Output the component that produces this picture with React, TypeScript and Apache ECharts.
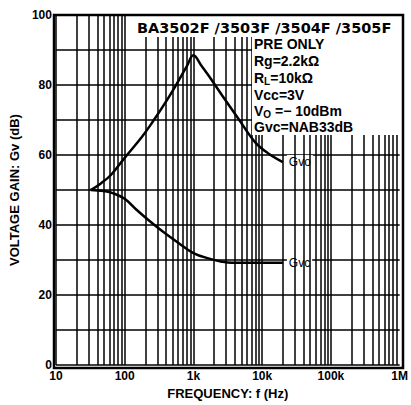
import React, { useEffect, useRef } from 'react';
import * as echarts from 'echarts';

// Gvo curve (frequency Hz, gain dB)
const gvoFreq = [32, 45, 63, 100, 180, 260, 380, 540, 800, 1000, 1300, 1690, 2620, 4540, 7870, 12000, 20000];
const gvoGain = [50, 51.9, 54.3, 59.2, 65.3, 69.7, 74.6, 79.5, 85.3, 88.5, 85.6, 82.5, 77, 70.3, 63.7, 60.6, 58];

// Gvc curve
const gvcFreq = [32, 50, 70, 100, 150, 235, 350, 566, 1000, 1700, 2500, 3600, 20000];
const gvcGain = [50, 49.7, 49, 47.5, 44.3, 41, 38.3, 35.3, 32, 30.4, 29.6, 29.2, 29.2];

const xTickLabels = ['10', '100', '1k', '10k', '100k', '1M'];
const decades = [10, 100, 1000, 10000, 100000];
const multipliers = [1, 2, 3, 4, 5, 6, 7, 8, 9];

const headerText = 'BA3502F /3503F /3504F /3505F';
const conditionLines = [
  '{n|PRE ONLY}',
  '{n|Rg=2.2kΩ}',
  '{n|R}{s|L}{n|=10kΩ}',
  '{n|Vcc=3V}',
  '{n|V}{s|O}{n| =− 10dBm}',
  '{n|Gvc=NAB33dB}',
];

const FONT = '"Liberation Sans", Arial, sans-serif';

export default function App() {
  const ref = useRef<HTMLDivElement>(null);
  useEffect(() => {
    if (!ref.current) return;
    const chart = echarts.init(ref.current, undefined, { renderer: 'svg' });
    const vLines: number[] = [];
    decades.forEach((d) => multipliers.forEach((m) => vLines.push(m * d)));

    const gl = 54, gt = 15, gw = 349, gh = 353;
    const lineYs = [44, 61, 78, 95, 111, 127];

    const graphic: any[] = [
      { type: 'rect', z: 50, shape: { x: 133, y: gt, width: gl + gw - 133, height: 22 }, style: { fill: '#fff' } },
      { type: 'rect', z: 50, shape: { x: 252, y: 36, width: gl + gw - 252, height: 99 }, style: { fill: '#fff' } },
      {
        type: 'text', z: 55, x: 137, y: 28,
        style: { text: headerText, fill: '#000', font: 'bold 14.5px "DejaVu Sans", sans-serif', verticalAlign: 'middle', align: 'left' },
      },
      ...conditionLines.map((t, i) => ({
        type: 'text', z: 55, x: 254, y: lineYs[i],
        style: {
          text: t, verticalAlign: 'middle', align: 'left', fill: '#000',
          rich: {
            n: { fontSize: 14, fontWeight: 'bold', fontFamily: FONT, fill: '#000', lineHeight: 13 },
            s: { fontSize: 10, fontWeight: 'bold', fontFamily: FONT, fill: '#000', lineHeight: 13, padding: [6, 0, 0, 0] },
          },
        },
      })),
      { type: 'rect', z: 60, shape: { x: gl, y: gt, width: gw, height: gh }, style: { fill: 'none', stroke: '#000', lineWidth: 2.5 } },
    ];

    const endLabelStyle = {
      show: true, distance: 4, color: '#000', fontSize: 12, fontFamily: FONT,
      backgroundColor: '#fff', padding: [1, 2],
    };

    chart.setOption({
      animation: false,
      backgroundColor: '#fff',
      color: ['#000', '#000'],
      grid: { left: gl, top: gt, width: gw, height: gh, containLabel: false },
      xAxis: {
        type: 'log', logBase: 10, min: 10, max: 1000000,
        name: 'FREQUENCY: f (Hz)', nameLocation: 'middle', nameGap: 21,
        nameTextStyle: { fontSize: 13, fontWeight: 'bold', fontFamily: FONT, color: '#000' },
        axisLine: { show: false }, axisTick: { show: false },
        splitLine: { show: false },
        axisLabel: {
          margin: 5, fontSize: 12, fontWeight: 'bold', fontFamily: FONT, color: '#000',
          formatter: (v: number) => xTickLabels[Math.round(Math.log10(v)) - 1] ?? '',
        },
      },
      yAxis: {
        type: 'value', min: 0, max: 100, interval: 10,
        name: 'VOLTAGE GAIN: Gv (dB)', nameLocation: 'middle', nameGap: 31,
        nameTextStyle: { fontSize: 13, fontWeight: 'bold', fontFamily: FONT, color: '#000' },
        axisLine: { show: false }, axisTick: { show: false },
        splitLine: { show: true, lineStyle: { color: '#000', width: 1.5 } },
        axisLabel: {
          margin: 4, fontSize: 12, fontWeight: 'bold', fontFamily: FONT, color: '#000', padding: [5, 0, 0, 0],
          formatter: (v: number) => (Math.round(v) % 20 === 0 ? String(Math.round(v)) : ''),
        },
      },
      graphic,
      series: [
        {
          type: 'line', name: 'Gvo', z: 3,
          data: gvoFreq.map((f, i) => [f, gvoGain[i]]),
          smooth: 0.4, symbol: 'none',
          itemStyle: { color: '#000' },
          lineStyle: { color: '#000', width: 2.5 },
          endLabel: { ...endLabelStyle, formatter: 'Gvo' },
        },
        {
          type: 'line', name: 'Gvc', z: 3,
          data: gvcFreq.map((f, i) => [f, gvcGain[i]]),
          smooth: 0.4, symbol: 'none',
          itemStyle: { color: '#000' },
          lineStyle: { color: '#000', width: 2.5 },
          endLabel: { ...endLabelStyle, formatter: 'Gvc' },
          markLine: {
            silent: true, symbol: ['none', 'none'], label: { show: false },
            lineStyle: { color: '#000', width: 1.5, type: 'solid' },
            data: vLines.map((v) => ({ xAxis: v })),
          },
        },
      ],
    });
    return () => chart.dispose();
  }, []);
  return <div ref={ref} style={{ position: 'absolute', left: 0, top: 0, width: 411, height: 405, background: '#fff' }} />;
}
